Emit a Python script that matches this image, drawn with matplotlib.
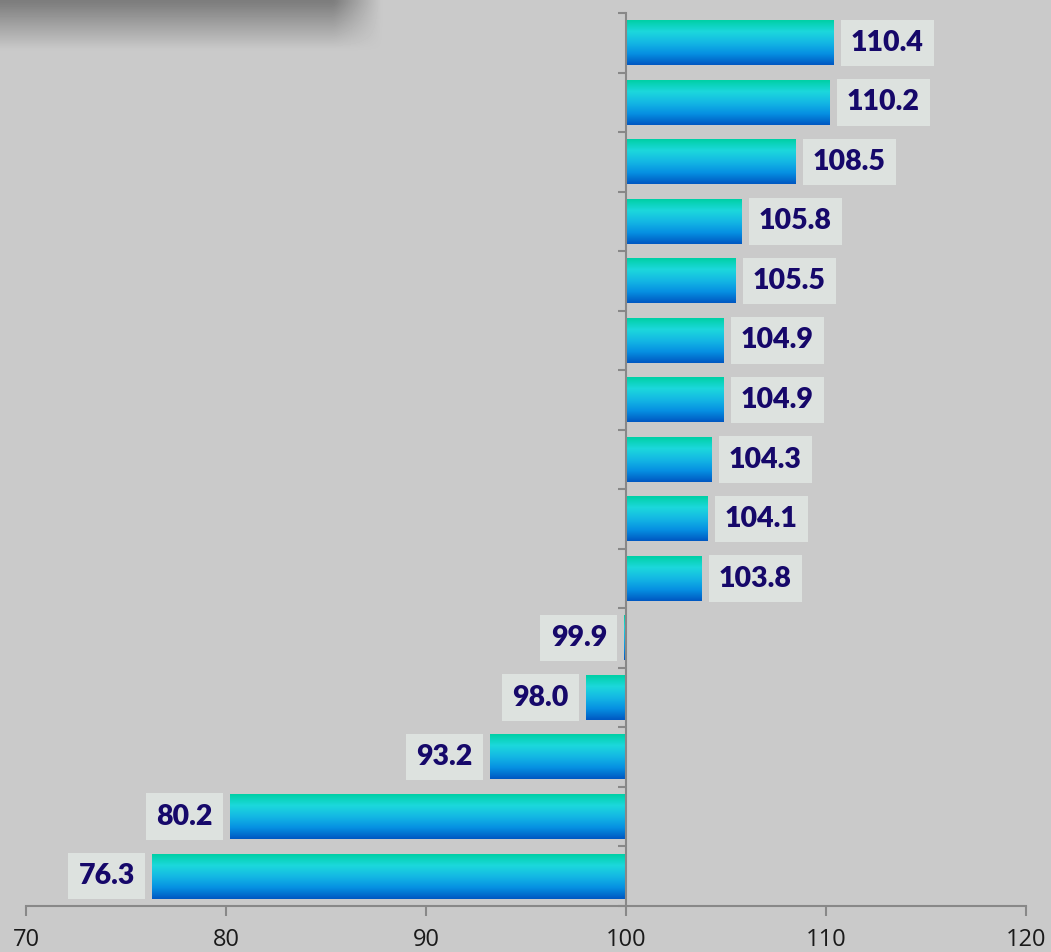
import matplotlib.pyplot as plt
import numpy as np
from matplotlib.colors import LinearSegmentedColormap


values = [110.4, 110.2, 108.5, 105.8, 105.5, 104.9, 104.9, 104.3, 104.1, 103.8,
          99.9, 98.0, 93.2, 80.2, 76.3]
labels = ['110.4', '110.2', '108.5', '105.8', '105.5', '104.9', '104.9', '104.3',
          '104.1', '103.8', '99.9', '98.0', '93.2', '80.2', '76.3']
xticks = [70, 80, 90, 100, 110, 120]

BASE = 100
BAR_H = 0.75
bar_cmap = LinearSegmentedColormap.from_list(
    'bar', ['#00d0a6', '#1cd8dc', '#14b8e4', '#0690e2', '#0058c2'])

fig = plt.figure(figsize=(10.51, 9.52), dpi=100)
fig.patch.set_facecolor('#c9c9c9')

# background with the dark shadow at the top left
bg = fig.add_axes([0, 0, 1, 1], zorder=-1)
h, w = 240, 263
yy, xx = np.mgrid[0:h, 0:w]
shade = np.clip((1 - yy / 12.0), 0, 1) * np.clip((95 - xx) / 12.0, 0, 1)
img = 0.79 - 0.30 * shade
bg.imshow(img, cmap='gray', vmin=0, vmax=1, aspect='auto', extent=[0, 1, 0, 1],
          interpolation='bicubic')
bg.axis('off')

ax = fig.add_axes([26 / 1051, 46 / 952, 1000 / 1051, 893 / 952])
ax.patch.set_alpha(0)
ypos = np.arange(len(values))
bars = ax.barh(ypos, [v - BASE for v in values], left=BASE, height=BAR_H,
               color='none', edgecolor='none')

grad = np.linspace(0, 1, 100).reshape(-1, 1)
for b in bars:
    x0, y0 = b.get_x(), b.get_y()
    x1, y1 = x0 + b.get_width(), y0 + b.get_height()
    ax.imshow(grad, cmap=bar_cmap, aspect='auto', extent=[x0, x1, y1, y0],
              zorder=2, interpolation='bilinear')

for v, lab, y in zip(values, labels, ypos):
    if v >= BASE:
        off, ha = 17, 'left'
    else:
        off, ha = -17, 'right'
    ax.annotate(lab, (v, y), xytext=(off, 0), textcoords='offset pixels',
                ha=ha, va='center', fontsize=20.5, fontweight='heavy',
                family='Lato', color='#16086a', zorder=4,
                bbox=dict(boxstyle='square,pad=0.36', fc='#dde2df', ec='none'))

ax.set_xlim(70, 120)
ax.set_ylim(len(values) - 0.5, -0.5)
ax.set_xticks(xticks)
ax.set_xticklabels([str(t) for t in xticks], fontsize=17, family='Open Sans',
                   color='#1a1a1a')
ax.tick_params(axis='x', length=7, color='#888888', width=1.5, pad=9)

ax.spines['left'].set_position(('data', BASE))
ax.spines['left'].set_color('#888888')
ax.spines['left'].set_linewidth(1.5)
ax.spines['bottom'].set_color('#888888')
ax.spines['bottom'].set_linewidth(1.5)
ax.spines['top'].set_visible(False)
ax.spines['right'].set_visible(False)
ax.set_yticks([])
ax.set_yticks(np.arange(-0.5, len(values)), minor=True)
ax.tick_params(axis='y', which='minor', length=6, color='#888888', width=1.5)

fig.savefig('out.png', dpi=100, facecolor=fig.get_facecolor())
